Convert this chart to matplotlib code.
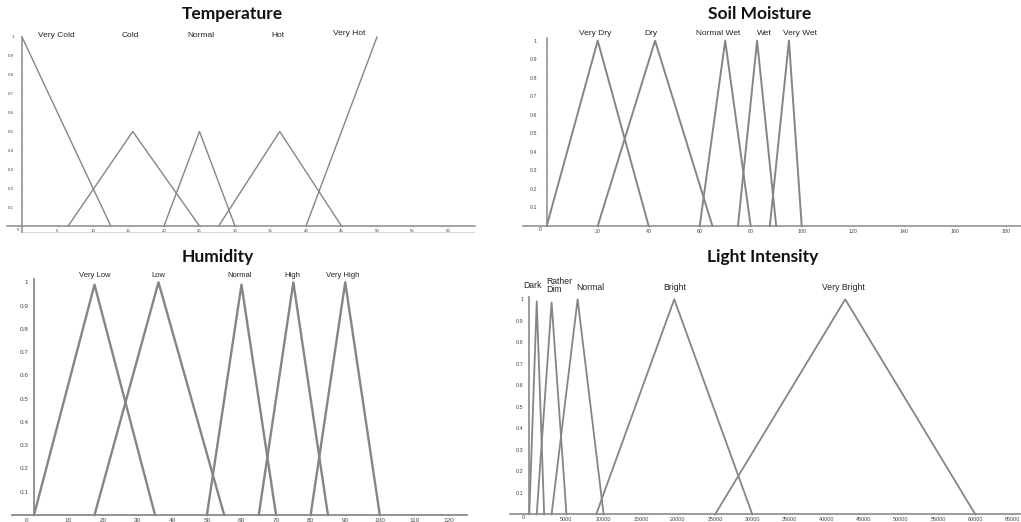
import numpy as np
import matplotlib
matplotlib.use('Agg')
import matplotlib.pyplot as plt

W, H = 1021, 522

# Temperature membership functions (x points, y points)
temp_names = ['Very Cold', 'Cold', 'Normal', 'Hot', 'Very Hot']
temp_x = [[0, 12.5], [6.5, 15.6, 25], [20, 25, 30], [27.7, 36.3, 45], [40, 50]]
temp_y = [[1, 0], [0, 0.5, 0], [0, 0.5, 0], [0, 0.5, 0], [0, 1]]
temp_lab_x = [4.9, 15.2, 25.2, 36.1, 46.1]
temp_lab_y = [1.01, 1.01, 1.01, 1.01, 1.016]
temp_xticks = [5, 10, 15, 20, 25, 30, 35, 40, 45, 50, 55, 60]

# Soil moisture
soil_names = ['Very Dry', 'Dry', 'Normal Wet', 'Wet', 'Very Wet']
soil_x = [[0, 20, 40], [20, 42.5, 65], [60, 70, 80], [75, 82.5, 90], [87.5, 95, 100]]
soil_y = [[0, 1, 0]] * 5
soil_lab_x = [19, 40.8, 67.3, 85.4, 99.3]
soil_xticks = [20, 40, 60, 80, 100, 120, 140, 160, 180]

# Humidity
hum_names = ['Very Low', 'Low', 'Normal', 'High', 'Very High']
hum_x = [[0, 17.5, 35], [17.5, 36, 55], [50, 60, 70], [65, 75, 85], [80, 90, 100]]
hum_y = [[0, 0.99, 0], [0, 1, 0], [0, 0.99, 0], [0, 1, 0], [0, 1, 0]]
hum_lab_x = [17.6, 36, 59.4, 74.6, 89.2]
hum_xticks = [10, 20, 30, 40, 50, 60, 70, 80, 90, 100, 110, 120]

# Light intensity
light_names = ['Dark', 'Rather\nDim', 'Normal', 'Bright', 'Very Bright']
light_x = [[0, 1000, 2000], [1000, 3000, 5000], [3000, 6500, 10000],
           [9000, 19500, 30000], [25000, 42500, 60000]]
light_y = [[0, 0.99, 0], [0, 0.985, 0], [0, 1, 0], [0, 1, 0], [0, 1, 0]]
light_lab_x = [457, 2340, 8166, 19600, 42310]
light_lab_y = [1.066, 1.066, 1.057, 1.055, 1.057]
light_xticks = [5000, 10000, 15000, 20000, 25000, 30000, 35000, 40000,
                45000, 50000, 55000, 60000, 65000]

yticks = [0.1, 0.2, 0.3, 0.4, 0.5, 0.6, 0.7, 0.8, 0.9, 1]

plt.rcParams['font.family'] = ['Liberation Sans', 'DejaVu Sans']
fig = plt.figure(figsize=(W / 100, H / 100), dpi=100)

LINE = '#858585'
AXC = '#8a8a8a'


def make_ax(x0, sx, y0, sy, left, right, top, bottom):
    ax = fig.add_axes([left / W, 1 - bottom / H, (right - left) / W, (bottom - top) / H])
    ax.set_xlim((left - x0) / sx, (right - x0) / sx)
    ax.set_ylim((y0 - bottom) / sy, (y0 - top) / sy)
    ax.patch.set_alpha(0)
    for s in ['top', 'right']:
        ax.spines[s].set_visible(False)
    ax.spines['bottom'].set_position(('data', 0))
    ax.spines['left'].set_position(('data', 0))
    return ax


def style(ax, xt, fs, lw_axis, ytop, ybot, padx, pady):
    ax.spines['bottom'].set_color(AXC)
    ax.spines['left'].set_color(AXC)
    ax.spines['bottom'].set_linewidth(lw_axis)
    ax.spines['left'].set_linewidth(lw_axis)
    ax.spines['left'].set_bounds(ybot, ytop)
    ax.set_xticks(xt)
    ax.set_xticklabels([str(v) for v in xt])
    ax.set_yticks(yticks)
    ax.set_yticklabels(['1' if v == 1 else str(v) for v in yticks])
    ax.tick_params(axis='x', labelsize=fs, length=1, width=0.4, color=AXC,
                   pad=padx, labelcolor='#444444')
    ax.tick_params(axis='y', labelsize=fs, length=1, width=0.4, color=AXC,
                   pad=pady, labelcolor='#444444')


# Temperature
ax1 = make_ax(22, 7.1, 226, 189, 7, 475, 22, 245)
for xs, ys in zip(temp_x, temp_y):
    ax1.plot(xs, ys, color=LINE, lw=1.0)
for n, lx, ly in zip(temp_names, temp_lab_x, temp_lab_y):
    ax1.text(lx, ly, n, fontsize=6, ha='center', va='center', color='#222222')
style(ax1, temp_xticks, 3.2, 1.1, 1.0, -0.03, 1.0, 5)
ax1.axhline(-0.032, xmin=0.03, color='#cfcfcf', lw=0.6)
ax1.annotate('0', (0, 0), xytext=(-3, -3), textcoords='offset points',
             fontsize=3.2, ha='center', va='center', color='#444444')

# Soil moisture
ax2 = make_ax(546.7, 2.55, 226, 185.3, 523, 1021, 22, 245)
for xs, ys in zip(soil_x, soil_y):
    ax2.plot(xs, ys, color=LINE, lw=1.4)
for n, lx in zip(soil_names, soil_lab_x):
    ax2.text(lx, 1.04, n, fontsize=6, ha='center', va='center', color='#222222')
style(ax2, soil_xticks, 3.8, 1.1, 1.015, 0, 1.2, 6)
ax2.annotate('0', (0, 0), xytext=(-4.5, -2.2), textcoords='offset points',
             fontsize=3.8, ha='center', va='center', color='#444444')

# Humidity
ax3 = make_ax(34, 3.458, 515, 232.7, 11.7, 466.7, 265, 522)
for xs, ys in zip(hum_x, hum_y):
    ax3.plot(xs, ys, color=LINE, lw=1.7)
for n, lx in zip(hum_names, hum_lab_x):
    ax3.text(lx, 1.03, n, fontsize=5.5, ha='center', va='center', color='#222222')
style(ax3, hum_xticks, 4.6, 1.3, 1.015, 0, 1.5, 3)
ax3.annotate('0', (0, 0), xytext=(-5, -4), textcoords='offset points',
             fontsize=4.6, ha='center', va='center', color='#444444')

# Light intensity
ax4 = make_ax(529.3, 0.007433, 514.3, 215, 510, 1021, 265, 522)
for xs, ys in zip(light_x, light_y):
    ax4.plot(xs, ys, color=LINE, lw=1.3)
for n, lx, ly in zip(light_names, light_lab_x, light_lab_y):
    if '\n' in n:
        ax4.text(lx, ly, n, fontsize=6.2, ha='left', va='center', color='#222222',
                 linespacing=0.85)
    else:
        ax4.text(lx, ly, n, fontsize=6.2, ha='center', va='center', color='#222222')
style(ax4, light_xticks, 3.9, 1.2, 1.012, 0, 1.2, 3)
ax4.annotate('0', (0, 0), xytext=(-4.5, -2.5), textcoords='offset points',
             fontsize=3.9, ha='center', va='center', color='#444444')

# Titles
for t, x, y in [('Temperature', 232, 14), ('Soil Moisture', 760, 14),
                ('Humidity', 218, 257), ('Light Intensity', 763, 257)]:
    fig.text(x / W, 1 - y / H, t, fontsize=12.5, fontweight='bold',
             family=['Lato', 'DejaVu Sans'], ha='center', va='center', color='#111111')

fig.savefig('out.png', dpi=100)
